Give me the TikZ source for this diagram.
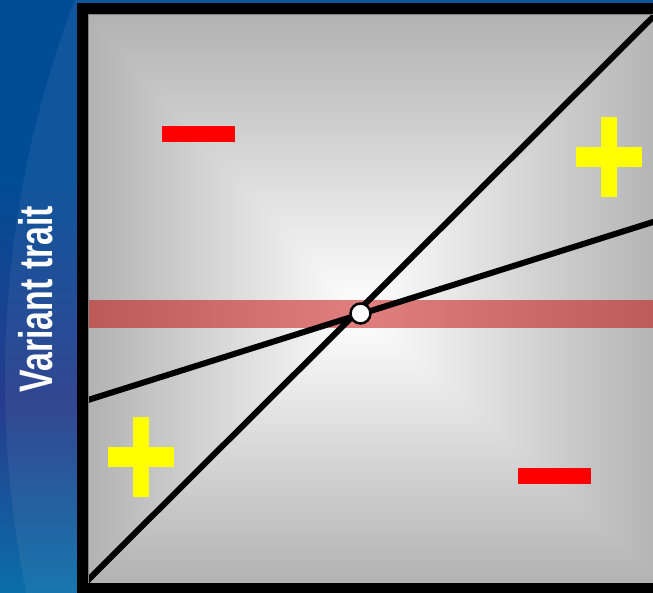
\documentclass[tikz,border=0pt]{standalone}
\usepackage{fontspec}
\setmainfont{Liberation Sans}
\definecolor{slideblue}{RGB}{2,76,150}
\definecolor{slidepurple}{RGB}{38,60,140}
\definecolor{slideteal}{RGB}{10,110,168}
\definecolor{panelgray}{RGB}{178,178,178}
\definecolor{panelmid}{RGB}{206,206,206}
\definecolor{bandred}{RGB}{197,0,0}
\definecolor{signred}{RGB}{255,0,0}
\definecolor{signyellow}{RGB}{255,255,0}
\usetikzlibrary{positioning,calc}
\pgfdeclareverticalshading{slidebg}{100bp}{color(0bp)=(slideteal); color(25bp)=(slideteal); color(41bp)=(slidepurple); color(60bp)=(slideblue); color(75bp)=(slideblue); color(100bp)=(slideblue)}
\tikzset{
  fitline/.style={draw=black, line width=6pt},
  pivot/.style={circle, draw=black, fill=white, line width=2.5pt, minimum size=20pt, inner sep=0pt},
  minussign/.style={fill=signred, minimum width=73pt, minimum height=16pt, inner sep=0pt, outer sep=0pt},
  plusbar/.style={fill=signyellow}
}

\begin{document}
\begin{tikzpicture}[x=1pt,y=-1pt]
  \useasboundingbox (0,0) rectangle (653,592);
  \begin{scope}
    \clip (0,0) rectangle (653,592);
    % slide background
    \shade[shading=slidebg] (0,0) rectangle (653,592);
    \fill[white,opacity=0.06] (1071,380) circle (1066pt);
    \begin{scope}
      \clip (88,14) rectangle (665,583);
      % grey panel, lighter towards the middle
      \fill[panelgray] (88,14) rectangle (665,583);
      \coordinate (mid) at (360,313);
      \shade[top color=panelgray, middle color=panelmid, bottom color=white] (mid) -- (88,14) -- (665,14) -- cycle;
      \shade[top color=white, middle color=panelmid, bottom color=panelgray] (mid) -- (88,583) -- (665,583) -- cycle;
      \shade[left color=panelgray, middle color=panelmid, right color=white] (mid) -- (88,14) -- (88,583) -- cycle;
      \shade[left color=white, middle color=panelmid, right color=panelgray] (mid) -- (665,14) -- (665,583) -- cycle;
      % red band
      \fill[bandred,opacity=0.5] (88,300) rectangle (665,328);
      % signs
      \node[minussign] (minusA) at (198.5,134) {};
      \node[minussign] (minusB) at (554.5,476) {};
      \fill[plusbar] (601,117) rectangle (617,197);
      \fill[plusbar] (576,147) rectangle (642,167);
      \fill[plusbar] (133,417) rectangle (149,497);
      \fill[plusbar] (108,447) rectangle (174,467);
      % the two lines
      \coordinate (steepLow) at (88,580);
      \coordinate (steepHigh) at (653,17);
      \coordinate (flatLow) at (88,400);
      \coordinate (flatHigh) at (653,222);
      \draw[fitline] ($(steepLow)!-0.05!(steepHigh)$) -- ($(steepHigh)!-0.05!(steepLow)$);
      \draw[fitline] ($(flatLow)!-0.05!(flatHigh)$) -- ($(flatHigh)!-0.05!(flatLow)$);
    \end{scope}
    % frame
    \draw[gray,line width=1pt] (88,14) rectangle (670,583);
    \draw[black,line width=11pt] (82.5,8.5) rectangle (670,588.5);
    \node[pivot] (cross) at (360.5,313.5) {};
  \end{scope}
  \node[rotate=90, anchor=base, text=white, inner sep=0pt,
        font=\fontsize{47}{50}\bfseries\selectfont] (ylabel) at (52,299) {\scalebox{0.72}[1]{Variant trait}};
\end{tikzpicture}
\end{document}
